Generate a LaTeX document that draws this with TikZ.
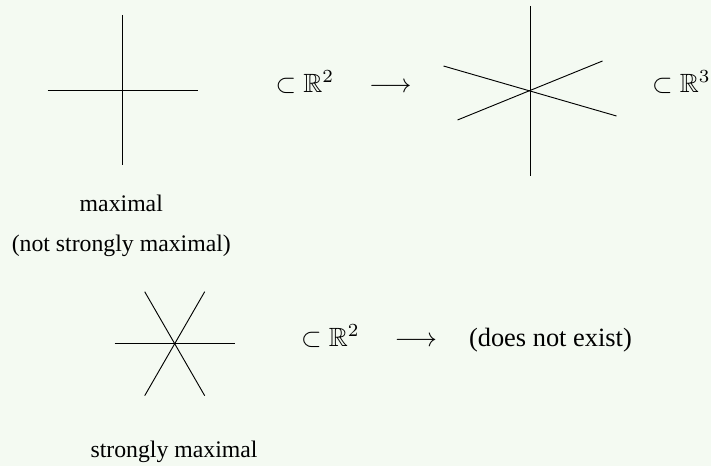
\documentclass[tikz,border=0pt]{standalone}
\usepackage{amssymb}
\usepackage{fontspec}
\setmainfont{Liberation Serif}
\usetikzlibrary{calc}
\definecolor{bgc}{RGB}{244,250,242}
\tikzset{
  seg/.style={draw=black, line width=0.35pt},
  mathtxt/.style={anchor=base west, inner sep=0pt, font=\normalsize},
  lbl/.style={anchor=base, inner sep=0pt, font=\small},
}
\begin{document}
\begin{tikzpicture}[x=0.3788pt, y=-0.3788pt]
\fill[bgc] (0,0) rectangle (711,466);
\useasboundingbox (0,0) rectangle (711,466);
% cross (maximal, not strongly maximal)
\coordinate (c1) at (122.5,90);
\draw[seg] ($(c1)+(0,-75)$) -- ($(c1)+(0,75)$);
\draw[seg] ($(c1)+(-75,0)$) -- ($(c1)+(75,0)$);
% star in R^3
\coordinate (c2) at (530.5,91);
\draw[seg] ($(c2)+(0,-85)$) -- ($(c2)+(0,85)$);
\draw[seg] ($(c2)+(-87,-25)$) -- ($(c2)+(86,25)$);
\draw[seg] ($(c2)+(-73,29)$) -- ($(c2)+(72,-30)$);
% strongly maximal star
\coordinate (c3) at (174.7,343.7);
\draw[seg] ($(c3)+(-60,0)$) -- ($(c3)+(60,0)$);
\draw[seg] ($(c3)+(-30,-52)$) -- ($(c3)+(30,52)$);
\draw[seg] ($(c3)+(30,-52)$) -- ($(c3)+(-30,52)$);
% row 1 texts
\node[mathtxt] (s1) at (275,92.5) {$\subset\mathbb{R}^2$};
\node[mathtxt] (a1) at (368.5,92.5) {$\longrightarrow$};
\node[mathtxt] (s2) at (651.5,92.5) {$\subset\mathbb{R}^3$};
% row 2 texts
\node[mathtxt] (s3) at (300.5,346.5) {$\subset\mathbb{R}^2$};
\node[mathtxt] (a2) at (394,346.5) {$\longrightarrow$};
\node[mathtxt] (dne) at (468.5,346.5) {(does not exist)};
% labels
\node[lbl] (l1) at (121.3,211.5) {maximal};
\node[lbl] (l2) at (121.3,251) {(not strongly maximal)};
\node[lbl] (l3) at (174,457) {strongly maximal};
\end{tikzpicture}
\end{document}
